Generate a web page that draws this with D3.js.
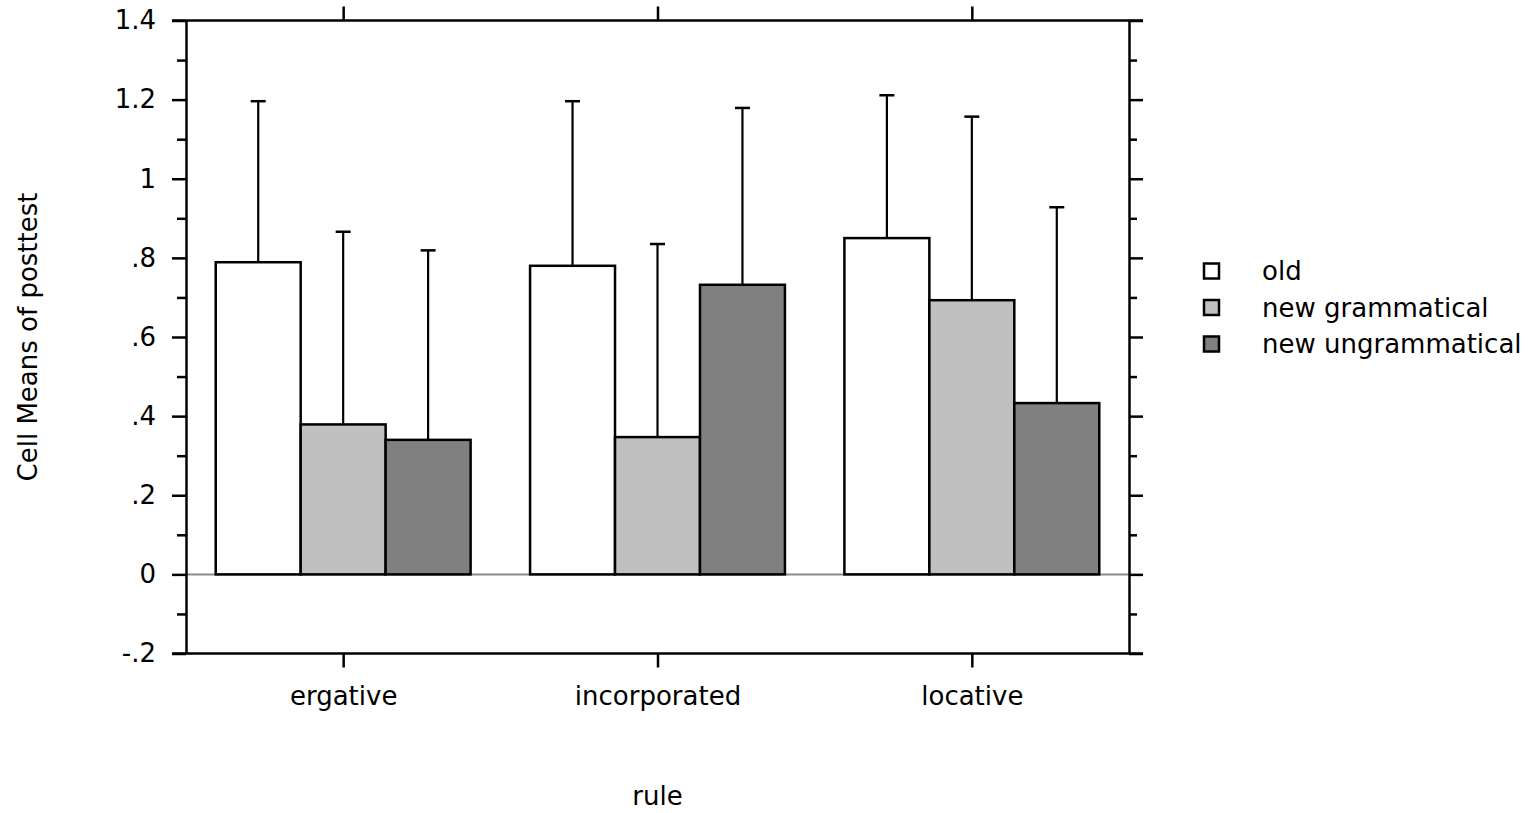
<!DOCTYPE html>
<html>
<head>
<meta charset="utf-8">
<script src="https://cdnjs.cloudflare.com/ajax/libs/d3/7.8.5/d3.min.js"></script>
<style>
  body { margin: 0; background: #fff; }
  text { font-family: "DejaVu Sans", sans-serif; fill: #000; }
</style>
</head>
<body>
<div id="chart"></div>
<script>
// chart data
const categories = ["ergative", "incorporated", "locative"];
const seriesNames = ["old", "new grammatical", "new ungrammatical"];
const oldMeans = [0.789, 0.780, 0.850];
const gramMeans = [0.379, 0.347, 0.693];
const ungramMeans = [0.340, 0.732, 0.433];
const oldTops = [1.196, 1.196, 1.211];
const gramTops = [0.866, 0.835, 1.157];
const ungramTops = [0.819, 1.179, 0.928];
const yTicks = [-0.2, 0, 0.2, 0.4, 0.6, 0.8, 1, 1.2, 1.4];
const yTickLabels = ["-.2", "0", ".2", ".4", ".6", ".8", "1", "1.2", "1.4"];
const yMinor = [-0.1, 0.1, 0.3, 0.5, 0.7, 0.9, 1.1, 1.3];
const fills = ["#ffffff", "#c0c0c0", "#808080"];

const means = [oldMeans, gramMeans, ungramMeans];
const tops = [oldTops, gramTops, ungramTops];

const W = 1534, H = 813;
const plotLeft = 186, plotRight = 1129, plotTop = 20.5, plotBottom = 653.5;
const fontSize = "26px";

const svg = d3.select("#chart").append("svg")
  .attr("width", W).attr("height", H);

const x0 = d3.scaleBand().domain(categories).range([plotLeft, plotRight]).padding(0);
const x1 = d3.scaleBand().domain(seriesNames).range([0, x0.bandwidth()])
  .paddingInner(0).paddingOuter(0.35);
const y = d3.scaleLinear().domain([-0.2, 1.4]).range([plotBottom, plotTop]);

// rows for bars
const rows = [];
categories.forEach((c, i) => {
  seriesNames.forEach((s, j) => {
    rows.push({ cat: c, ser: s, idx: j, v: means[j][i], t: tops[j][i] });
  });
});

// zero line
svg.append("line")
  .attr("x1", plotLeft).attr("x2", plotRight)
  .attr("y1", y(0)).attr("y2", y(0))
  .attr("stroke", "#8c8c8c").attr("stroke-width", 2);

// error bars (drawn before bars so stem starts at bar top)
const eb = svg.append("g");
eb.selectAll("line.stem").data(rows).enter().append("line")
  .attr("x1", d => x0(d.cat) + x1(d.ser) + x1.bandwidth() / 2)
  .attr("x2", d => x0(d.cat) + x1(d.ser) + x1.bandwidth() / 2)
  .attr("y1", d => y(d.v)).attr("y2", d => y(d.t))
  .attr("stroke", "#000").attr("stroke-width", 2.2);
eb.selectAll("line.cap").data(rows).enter().append("line")
  .attr("x1", d => x0(d.cat) + x1(d.ser) + x1.bandwidth() / 2 - 7.5)
  .attr("x2", d => x0(d.cat) + x1(d.ser) + x1.bandwidth() / 2 + 7.5)
  .attr("y1", d => y(d.t)).attr("y2", d => y(d.t))
  .attr("stroke", "#000").attr("stroke-width", 2.5);

// bars
svg.append("g").selectAll("rect").data(rows).enter().append("rect")
  .attr("x", d => x0(d.cat) + x1(d.ser))
  .attr("width", x1.bandwidth())
  .attr("y", d => y(d.v))
  .attr("height", d => y(0) - y(d.v))
  .attr("fill", d => fills[d.idx])
  .attr("stroke", "#000").attr("stroke-width", 2.5);

// frame axes
const axisStyle = g => {
  g.select(".domain").attr("stroke", "#000").attr("stroke-width", 2.5);
  g.selectAll(".tick line").attr("stroke", "#000").attr("stroke-width", 2.5);
};

// left axis
svg.append("g").attr("transform", `translate(${plotLeft},0)`)
  .call(d3.axisLeft(y).tickValues(yTicks).tickSize(14).tickSizeOuter(0)
    .tickPadding(16).tickFormat((d, i) => yTickLabels[i]))
  .call(axisStyle)
  .call(g => g.selectAll("text").style("font-size", fontSize)
    .style("font-family", "'DejaVu Sans', sans-serif"));
svg.append("g").attr("transform", `translate(${plotLeft},0)`)
  .call(d3.axisLeft(y).tickValues(yMinor).tickSize(9).tickFormat(""))
  .call(axisStyle).call(g => g.select(".domain").remove());

// right axis
svg.append("g").attr("transform", `translate(${plotRight},0)`)
  .call(d3.axisRight(y).tickValues(yTicks).tickSize(14).tickSizeOuter(0).tickFormat(""))
  .call(axisStyle);
svg.append("g").attr("transform", `translate(${plotRight},0)`)
  .call(d3.axisRight(y).tickValues(yMinor).tickSize(8).tickFormat(""))
  .call(axisStyle).call(g => g.select(".domain").remove());

// bottom axis
const xCenter = d3.scalePoint().domain(categories)
  .range([x0(categories[0]) + x0.bandwidth() / 2, x0(categories[2]) + x0.bandwidth() / 2]);
svg.append("g").attr("transform", `translate(0,${plotBottom})`)
  .call(d3.axisBottom(xCenter).tickSize(14).tickSizeOuter(0).tickPadding(19))
  .call(axisStyle)
  .call(g => g.select(".domain").attr("d", `M${plotLeft - 14},0H${plotRight + 14}`))
  .call(g => g.selectAll("text").style("font-size", fontSize)
    .style("font-family", "'DejaVu Sans', sans-serif"));

// top axis
svg.append("g").attr("transform", `translate(0,${plotTop})`)
  .call(d3.axisTop(xCenter).tickSize(14).tickSizeOuter(0).tickFormat(""))
  .call(axisStyle)
  .call(g => g.select(".domain").attr("d", `M${plotLeft - 14},0H${plotRight + 14}`));

// axis titles
svg.append("text")
  .attr("x", (plotLeft + plotRight) / 2).attr("y", 805)
  .attr("text-anchor", "middle").style("font-size", fontSize)
  .text("rule");
svg.append("text")
  .attr("transform", `translate(37,${(plotTop + plotBottom) / 2}) rotate(-90)`)
  .attr("text-anchor", "middle").style("font-size", fontSize)
  .text("Cell Means of posttest");

// legend
const legend = svg.append("g").attr("transform", "translate(1204,271)");
const li = legend.selectAll("g").data(seriesNames).enter().append("g")
  .attr("transform", (d, i) => `translate(0,${i * 36.5})`);
li.append("rect")
  .attr("x", 0).attr("y", -7.5).attr("width", 15).attr("height", 15)
  .attr("fill", (d, i) => fills[i]).attr("stroke", "#000").attr("stroke-width", 2.5);
li.append("text")
  .attr("x", 58).attr("y", 0).attr("dy", "0.35em")
  .style("font-size", fontSize)
  .text(d => d);
</script>
</body>
</html>
